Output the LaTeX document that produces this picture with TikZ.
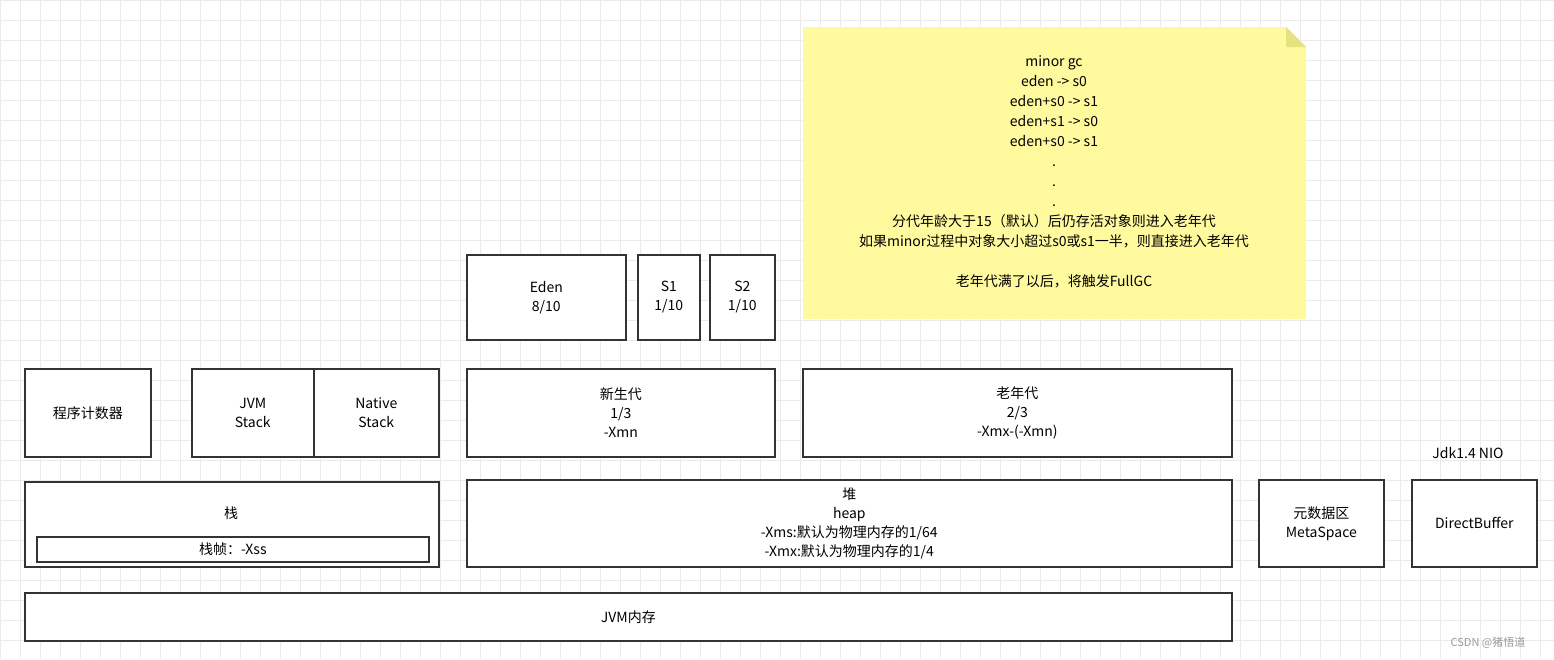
\documentclass[tikz,border=0pt]{standalone}
\usepackage{fontspec}
\setmainfont{Noto Sans CJK SC}
\begin{document}
\begin{tikzpicture}[x=1pt,y=-1pt,
 box/.style={draw=black!80,line width=1.6pt,fill=white,align=center,font=\fontsize{14}{19}\selectfont,inner sep=0pt},
 lbl/.style={align=center,font=\fontsize{14}{19}\selectfont,inner sep=0pt}]
\fill[white] (0,0) rectangle (1554,659);
\useasboundingbox (0,0) rectangle (1554,659);
\foreach \i in {0,20,...,1554} \draw[black!8,line width=0.6pt] (\i,0) -- (\i,659);
\foreach \j in {0,20,...,659} \draw[black!8,line width=0.6pt] (0,\j) -- (1554,\j);
\newcommand\bx[6]{\node[box,minimum width=#4-#2,minimum height=#5-#3,anchor=north west] (#1) at (#2,#3) {#6};}
% note
\fill[yellow!38!white] (803,27) -- (1286,27) -- (1306,47) -- (1306,319) -- (803,319) -- cycle;
\fill[black!20!yellow!55] (1286,27) -- (1286,47) -- (1306,47) -- cycle;
\node[lbl,font=\fontsize{14}{20}\selectfont] (note) at (1054,172) {minor gc\\eden -> s0\\eden+s0 -> s1\\eden+s1 -> s0\\eden+s0 -> s1\\.\\.\\.\\分代年龄大于15（默认）后仍存活对象则进入老年代\\如果minor过程中对象大小超过s0或s1一半，则直接进入老年代\\ \\老年代满了以后，将触发FullGC};
\bx{eden}{466}{254}{625}{339}{Eden\\8/10}
\bx{s1}{637}{254}{699}{339}{S1\\1/10}
\bx{s2}{709}{254}{774}{339}{S2\\1/10}
\bx{pc}{24}{368}{150}{456}{程序计数器}
\bx{jvms}{191}{368}{313}{456}{JVM\\Stack}
\bx{nats}{313}{368}{438}{456}{Native\\Stack}
\bx{young}{466}{368}{774}{456}{新生代\\1/3\\-Xmn}
\bx{old}{802}{368}{1231}{456}{老年代\\2/3\\-Xmx-(-Xmn)}
\bx{stack}{24}{481}{438}{566}{}
\node[lbl] (stl) at (231,513) {栈};
\bx{frame}{36}{536}{428}{561}{栈帧：-Xss}
\bx{heap}{466}{479}{1231}{566}{堆\\heap\\-Xms:默认为物理内存的1/64\\-Xmx:默认为物理内存的1/4}
\bx{meta}{1258}{479}{1383}{566}{元数据区\\MetaSpace}
\bx{db}{1411}{479}{1536}{566}{DirectBuffer}
\node[lbl] (nio) at (1468,453) {Jdk1.4 NIO};
\bx{mem}{24}{592}{1231}{640}{JVM内存}
\node[lbl,text=black!40,font=\fontsize{11}{12}\selectfont] (wm) at (1488,643) {CSDN @猪悟道};
\end{tikzpicture}
\end{document}
